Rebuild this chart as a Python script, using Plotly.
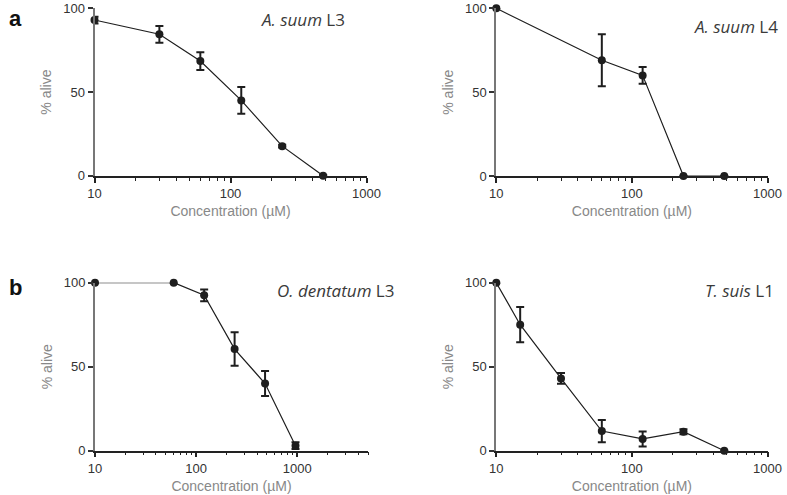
import plotly.graph_objects as go

# ---- data ----
conc_a3 = [10, 30, 60, 120, 240, 480]
alive_a3 = [93, 84.5, 68.5, 45, 17.7, 0]
err_a3 = [2, 5, 5.3, 8, 0.8, 0.5]

conc_a4 = [10, 60, 120, 240, 480]
alive_a4 = [100, 69, 60, 0, 0]
err_a4 = [0, 15.5, 5, 0, 0]

conc_od = [10, 60, 120, 240, 480, 960]
alive_od = [100, 100, 92.5, 60.5, 40, 3]
err_od = [0, 0, 3.5, 10, 7.5, 2]

conc_ts = [10, 15, 30, 60, 120, 240, 480]
alive_ts = [100, 75, 43, 11.7, 7, 11.3, 0]
err_ts = [0, 10.5, 3.2, 6.6, 4.5, 1.5, 0]

titles = ["<i>A. suum</i> L3", "<i>A. suum</i> L4", "<i>O. dentatum</i> L3", "<i>T. suis</i> L1"]
panel_letters = ["a", "b"]
x_tick_vals = [10, 100, 1000]
y_tick_vals = [0, 50, 100]

series = [(conc_a3, alive_a3, err_a3), (conc_a4, alive_a4, err_a4),
          (conc_od, alive_od, err_od), (conc_ts, alive_ts, err_ts)]

W, H = 787, 495
# domains in window pixels (left, right, top, bottom)
px_dom = [(94.5, 366.5, 8.3, 175.8), (496.3, 767.5, 8.3, 176),
          (95, 368, 282.7, 450.7), (496.3, 767.5, 282.7, 450.7)]
title_pos = [(347, 19), (780, 26), (396, 290.5), (776, 290)]
letter_pos = [(7, 18), (7, 287)]
xranges = [[1, 3], [1, 3], [1, 3.699], [1, 3]]
minor_vals = [m * 10 ** d for d in range(1, 4) for m in range(2, 10)]


def px(xw):
    return xw / W


def py(yw):
    return 1 - yw / H


fig = go.Figure()
dark = "#1e1e1e"
for i, ((x, y, e), (l, r, t, b)) in enumerate(zip(series, px_dom)):
    n = "" if i == 0 else str(i + 1)
    fig.add_trace(go.Scatter(
        x=x, y=y, mode="lines+markers",
        line=dict(color=dark, width=1.2),
        marker=dict(color=dark, size=8),
        error_y=dict(type="data", array=e, visible=True, color=dark, thickness=2, width=4),
        xaxis="x" + n, yaxis="y" + n, showlegend=False, cliponaxis=False))
    tick_font = dict(family="Liberation Sans, Arial", size=13, color="#333")
    fig.layout["xaxis" + n] = dict(
        type="log", range=xranges[i], domain=[px(l), px(r)], anchor="y" + n,
        tickvals=x_tick_vals, ticktext=[str(v) for v in x_tick_vals],
        showgrid=False, zeroline=False, showline=True, linecolor="#222", linewidth=1.5,
        ticks="outside", tickcolor="#222", tickwidth=1.5, ticklen=5, automargin=False,
        ticklabeloverflow="allow", tickfont=tick_font,
        minor=dict(ticks="outside", ticklen=3, tickcolor="#222", tickwidth=1,
                   tickmode="array", tickvals=minor_vals, showgrid=False),
        title=dict(text="Concentration (µM)", standoff=6,
                   font=dict(family="Liberation Sans, Arial", size=14, color="#888")))
    fig.layout["yaxis" + n] = dict(
        range=[0, 100], domain=[py(b), py(t)], anchor="x" + n,
        tickvals=y_tick_vals,
        showgrid=False, zeroline=False, showline=True, linecolor="#777", linewidth=2,
        ticks="outside", tickcolor="#333", tickwidth=1.5, ticklen=5, automargin=False,
        ticklabeloverflow="allow", tickfont=tick_font,
        title=dict(text="% alive", standoff=8,
                   font=dict(family="Liberation Sans, Arial", size=14, color="#888")))
    tx, ty = title_pos[i]
    fig.add_annotation(text=titles[i], xref="paper", yref="paper",
                       x=px(tx), y=py(ty), xanchor="right", yanchor="middle", showarrow=False,
                       font=dict(family="Open Sans", size=17, color="#3a3a3a"))

for j, letter in enumerate(panel_letters):
    lx, ly = letter_pos[j]
    fig.add_annotation(text="<b>" + letter + "</b>", xref="paper", yref="paper",
                       x=px(lx), y=py(ly), xanchor="left", yanchor="middle",
                       showarrow=False, font=dict(family="Liberation Sans, Arial", size=22, color="#111"))

fig.update_layout(width=W, height=H, margin=dict(l=0, r=0, t=0, b=0),
                  plot_bgcolor="white", paper_bgcolor="white")
# remove the browser's default 8px body margin so the figure fills the window
fig.write_html("out.html", config={"displayModeBar": False},
               post_script="document.body.style.margin='0px';")
